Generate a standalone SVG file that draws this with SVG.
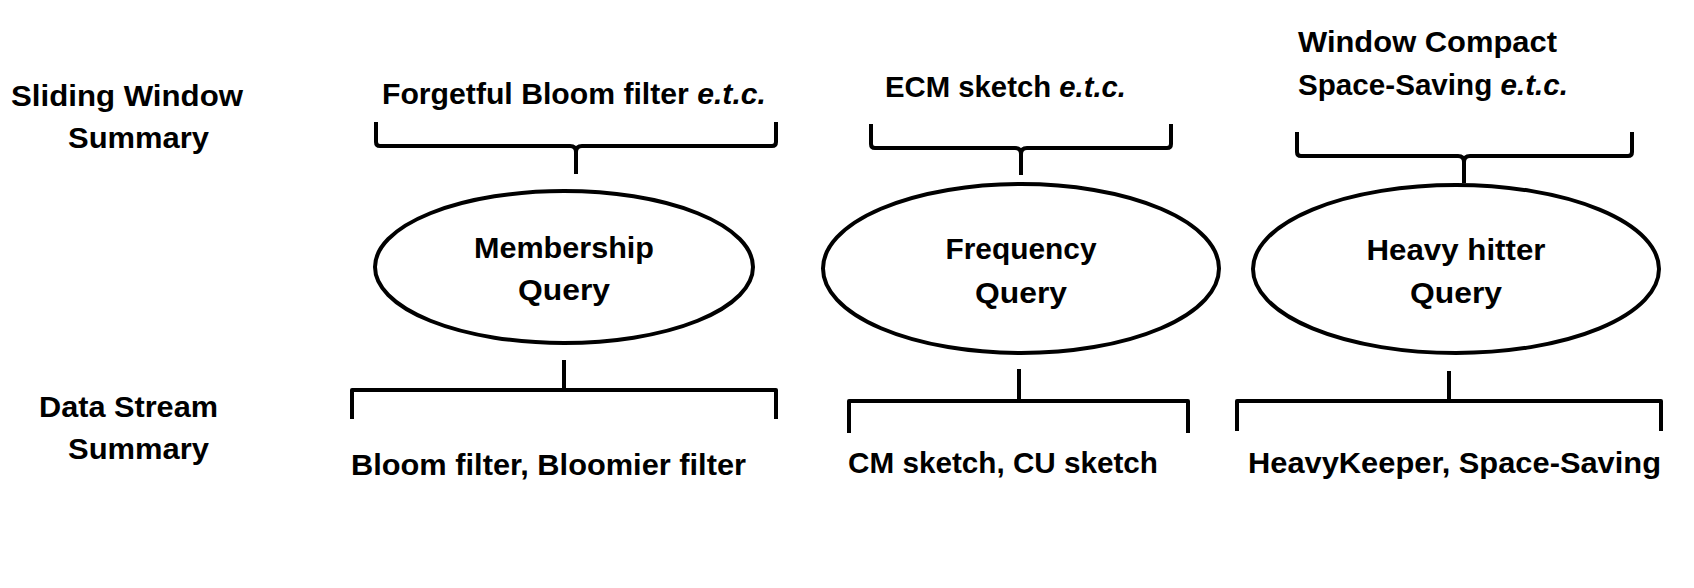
<svg xmlns="http://www.w3.org/2000/svg" width="1694" height="588" viewBox="0 0 1694 588">
<style>
text{font-family:"Liberation Sans",Arial,sans-serif;font-weight:bold;font-size:30px;fill:#000}
.c{text-anchor:middle}
.it{font-style:italic}
.ln{fill:none;stroke:#000;stroke-width:4;stroke-linecap:butt;stroke-linejoin:round}
.el{fill:#fff;stroke:#000;stroke-width:4}
</style>
<rect width="1694" height="588" fill="#fff"/>
<g id="labels">
<text x="11" y="106" textLength="232" lengthAdjust="spacingAndGlyphs">Sliding Window</text>
<text x="68" y="148" textLength="141" lengthAdjust="spacingAndGlyphs">Summary</text>
<text x="39" y="417" textLength="179" lengthAdjust="spacingAndGlyphs">Data Stream</text>
<text x="68" y="459" textLength="141" lengthAdjust="spacingAndGlyphs">Summary</text>
</g>
<g id="connectors">
<path class="ln" d="M376,122 L376,142 Q376,146 380,146 L570,146 Q576,146 576,152 L576,174 M776,122 L776,142 Q776,146 772,146 L582,146 Q576,146 576,152"/>
<path class="ln" d="M871,124 L871,144 Q871,148 875,148 L1015,148 Q1021,148 1021,154 L1021,175 M1171,124 L1171,144 Q1171,148 1167,148 L1027,148 Q1021,148 1021,154"/>
<path class="ln" d="M1297,132 L1297,152 Q1297,156 1301,156 L1458,156 Q1464,156 1464,162 L1464,183 M1632,132 L1632,152 Q1632,156 1628,156 L1470,156 Q1464,156 1464,162"/>
<path class="ln" d="M564,360 L564,390 M352,419 L352,390 L776,390 L776,419"/>
<path class="ln" d="M1019,369 L1019,401 M849,433 L849,401 L1188,401 L1188,433"/>
<path class="ln" d="M1449,371 L1449,401 M1237,431 L1237,401 L1661,401 L1661,431"/>
</g>
<g id="sw-membership">
<text x="382" y="104" textLength="384" lengthAdjust="spacingAndGlyphs">Forgetful Bloom filter <tspan class="it">e.t.c.</tspan></text>
</g>
<g id="sw-frequency">
<text x="885" y="97" textLength="241" lengthAdjust="spacingAndGlyphs">ECM sketch <tspan class="it">e.t.c.</tspan></text>
</g>
<g id="sw-heavy">
<text x="1298" y="52" textLength="259" lengthAdjust="spacingAndGlyphs">Window Compact</text>
<text x="1298" y="95" textLength="270" lengthAdjust="spacingAndGlyphs">Space-Saving <tspan class="it">e.t.c.</tspan></text>
</g>
<g id="membership-query">
<ellipse class="el" cx="564" cy="267" rx="189" ry="76"/>
<text class="c" x="564" y="258" textLength="180" lengthAdjust="spacingAndGlyphs">Membership</text>
<text class="c" x="564" y="300" textLength="92" lengthAdjust="spacingAndGlyphs">Query</text>
</g>
<g id="frequency-query">
<ellipse class="el" cx="1021" cy="268.5" rx="198" ry="84.5"/>
<text class="c" x="1021" y="259" textLength="151" lengthAdjust="spacingAndGlyphs">Frequency</text>
<text class="c" x="1021" y="303" textLength="92" lengthAdjust="spacingAndGlyphs">Query</text>
</g>
<g id="heavy-hitter-query">
<ellipse class="el" cx="1456" cy="269" rx="203" ry="84"/>
<text class="c" x="1456" y="260" textLength="179" lengthAdjust="spacingAndGlyphs">Heavy hitter</text>
<text class="c" x="1456" y="303" textLength="92" lengthAdjust="spacingAndGlyphs">Query</text>
</g>
<g id="ds-membership">
<text x="351" y="475" textLength="395" lengthAdjust="spacingAndGlyphs">Bloom filter, Bloomier filter</text>
</g>
<g id="ds-frequency">
<text x="848" y="473" textLength="310" lengthAdjust="spacingAndGlyphs">CM sketch, CU sketch</text>
</g>
<g id="ds-heavy">
<text x="1248" y="473" textLength="413" lengthAdjust="spacingAndGlyphs">HeavyKeeper, Space-Saving</text>
</g>
</svg>
